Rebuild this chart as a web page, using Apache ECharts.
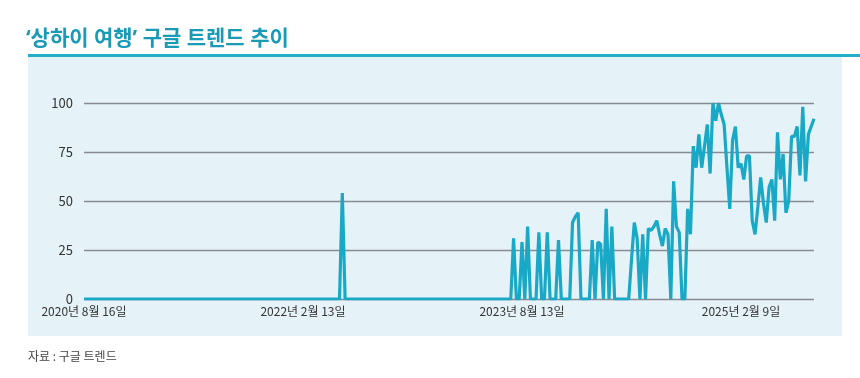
<!DOCTYPE html>
<html>
<head>
<meta charset="utf-8">
<script src="https://cdn.jsdelivr.net/npm/echarts@6/dist/echarts.min.js"></script>
<style>
html,body{margin:0;padding:0;background:#fff;}
#c{width:860px;height:378px;}
</style>
</head>
<body>
<div id="c"></div>
<script>
// Weekly Google Trends index, first week = 2020-08-16
const startDate = '2020-08-16';
const tickLabels = ['2020년 8월 16일', '2022년 2월 13일', '2023년 8월 13일', '2025년 2월 9일'];
const tickEvery = 78; // weeks between labelled ticks

const values = [
  0,0,0,0,0,0,0,0,0,0, 0,0,0,0,0,0,0,0,0,0,
  0,0,0,0,0,0,0,0,0,0, 0,0,0,0,0,0,0,0,0,0,
  0,0,0,0,0,0,0,0,0,0, 0,0,0,0,0,0,0,0,0,0,
  0,0,0,0,0,0,0,0,0,0, 0,0,0,0,0,0,0,0,0,0,
  0,0,0,0,0,0,0,0,0,0, 0,0,54,0,0,0,0,0,0,0,
  0,0,0,0,0,0,0,0,0,0, 0,0,0,0,0,0,0,0,0,0,
  0,0,0,0,0,0,0,0,0,0, 0,0,0,0,0,0,0,0,0,0,
  0,0,0,0,0,0,0,0,0,0, 0,0,0,31,0,0,29,0,37,0,
  0,0,34,0,0,34,0,0,0,30, 0,0,0,0,39,42,44,0,0,0,
  0,30,0,29,28,0,46,0,37,0, 0,0,0,0,0,20,39,31,0,33,
  0,36,35,37,40,33,27,36,33,0, 60,37,34,0,0,46,33,78,67,84,
  67,78,89,64,100,91,100,94,89,67, 46,81,88,67,69,61,73,73,40,33,
  47,62,49,39,57,61,40,85,61,74, 44,50,83,83,88,63,98,60,84,88,
  92
];

const categories = [];
{
  const d0 = new Date(startDate + 'T00:00:00Z');
  for (let i = 0; i < values.length; i++) {
    const d = new Date(d0.getTime() + i * 7 * 86400000);
    categories.push(d.toISOString().slice(0, 10));
  }
}

const chart = echarts.init(document.getElementById('c'));
const labelFont = "'Noto Sans CJK KR', sans-serif";
chart.setOption({
  animation: false,
  backgroundColor: '#ffffff',
  title: {
    text: '‘상하이 여행’ 구글 트렌드 추이',
    left: 21, top: 24,
    textStyle: {
      fontFamily: "'Noto Sans', 'Noto Sans CJK KR', sans-serif",
      fontSize: 21, fontWeight: 'bold', color: '#1b9ab6'
    }
  },
  graphic: [
    { type: 'rect', z: -10, shape: { x: 28, y: 57, width: 814, height: 279 }, style: { fill: '#e5f2f8' } },
    { type: 'rect', z: -9, shape: { x: 28, y: 54, width: 832, height: 3 }, style: { fill: '#23aec8' } },
    { type: 'text', left: 28, top: 350, style: { text: '자료 : 구글 트렌드', font: "12px 'Noto Sans CJK KR', sans-serif", fill: '#444' } }
  ],
  grid: { left: 84, right: 46, top: 103, bottom: 79 },
  xAxis: {
    type: 'category',
    data: categories,
    boundaryGap: false,
    axisLine: { show: false },
    axisTick: { show: false },
    splitLine: { show: false },
    axisLabel: {
      interval: (i) => i % tickEvery === 0,
      formatter: (v, i) => tickLabels[Math.round(i / tickEvery)] || '',
      margin: 6,
      color: '#333',
      fontSize: 12,
      fontFamily: labelFont
    }
  },
  yAxis: {
    type: 'value',
    min: 0, max: 100, interval: 25,
    axisLine: { show: false },
    axisTick: { show: false },
    splitLine: { lineStyle: { color: '#878b94', width: 1.3 } },
    axisLabel: { margin: 11, color: '#333', fontSize: 13, fontFamily: labelFont }
  },
  series: [{
    type: 'line',
    data: values,
    showSymbol: false,
    lineStyle: { color: '#19a9c6', width: 3.2 },
    itemStyle: { color: '#19a9c6' }
  }]
});
</script>
</body>
</html>
